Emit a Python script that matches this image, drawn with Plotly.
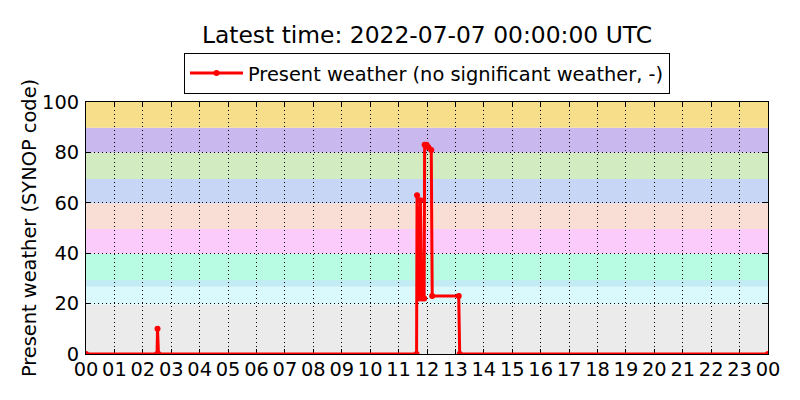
import plotly.graph_objects as go

# ---- data ----
times = [
    "2022-07-06 00:00", "2022-07-06 02:30", "2022-07-06 02:31", "2022-07-06 02:33",
    "2022-07-06 11:38", "2022-07-06 11:39", "2022-07-06 11:43", "2022-07-06 11:46",
    "2022-07-06 11:49", "2022-07-06 11:54", "2022-07-06 11:55", "2022-07-06 11:59",
    "2022-07-06 12:03", "2022-07-06 12:09", "2022-07-06 12:11", "2022-07-06 13:07",
    "2022-07-06 13:09", "2022-07-07 00:00",
]
weather = [0, 0, 10, 0,
           0, 63, 22, 61,
           22, 22, 83, 83,
           82, 81, 23, 23,
           0, 0]

hour_ticks = ["2022-07-06 %02d:00" % h for h in range(24)] + ["2022-07-07 00:00"]
hour_labels = ["00", "01", "02", "03", "04", "05", "06", "07", "08", "09", "10", "11",
               "12", "13", "14", "15", "16", "17", "18", "19", "20", "21", "22", "23", "00"]
y_ticks = [0, 20, 40, 60, 80, 100]

# SYNOP code background bands
band_lo = [0, 19.6, 26.7, 29.4, 39.8, 49.6, 59.8, 69.4, 80.0, 89.8]
band_hi = [19.6, 26.7, 29.4, 39.8, 49.6, 59.8, 69.4, 80.0, 89.8, 100]
band_colors = ["#ebebeb", "#d9f9fc", "#c3ebf3", "#b8fde3", "#fbcbfb",
               "#f8ded5", "#c8d6f5", "#d2ebc0", "#c8b8ee", "#f7de8b"]

# page body has an 8px margin; figure is sized/offset to compensate
W, H = 792, 392
ML, MR, MT, MB = 78, 32, 94, 46
PLOT_H = H - MT - MB

fig = go.Figure()
fig.add_trace(go.Scatter(
    x=times, y=weather, mode="lines+markers",
    name="Present weather (no significant weather, -)",
    line=dict(color="#ff0000", width=3),
    marker=dict(color="#ff0000", size=6),
))

for lo, hi, c in zip(band_lo, band_hi, band_colors):
    fig.add_shape(type="rect", xref="paper", yref="y", x0=0, x1=1, y0=lo, y1=hi,
                  fillcolor=c, line=dict(width=0), layer="below")

fig.update_layout(
    width=W, height=H,
    margin=dict(l=ML, r=MR, t=MT, b=MB, autoexpand=False),
    paper_bgcolor="white", plot_bgcolor="white",
    font=dict(family="DejaVu Sans", size=19.4, color="black"),
    title=dict(text="Latest time: 2022-07-07 00:00:00 UTC", font=dict(size=23.4),
               x=0.5, xref="paper", xanchor="center",
               y=1 - 27 / H, yref="container", yanchor="middle"),
    showlegend=True,
    legend=dict(x=0.5, xanchor="center", y=1 + (MT - 45) / PLOT_H, yanchor="top",
                bordercolor="black", borderwidth=1, bgcolor="white",
                font=dict(size=19.4), itemwidth=53),
)
fig.update_xaxes(
    range=["2022-07-06 00:00", "2022-07-07 00:00"],
    tickmode="array", tickvals=hour_ticks, ticktext=hour_labels,
    ticks="inside", ticklen=5, tickcolor="black",
    showline=True, linecolor="black", linewidth=1, mirror="ticks",
    showgrid=True, gridcolor="black", griddash="1px,3px", gridwidth=1,
    zeroline=False, layer="below traces", tickfont=dict(size=19.4),
    ticklabelstandoff=-2,
    automargin=False,
)
fig.update_yaxes(
    range=[0, 100], tickmode="array", tickvals=y_ticks,
    ticks="inside", ticklen=5, tickcolor="black",
    showline=True, linecolor="black", linewidth=1, mirror="ticks",
    showgrid=True, gridcolor="black", griddash="1px,3px", gridwidth=1,
    zeroline=False, layer="below traces", tickfont=dict(size=19.4),
    ticklabelstandoff=2,
    title=dict(text="Present weather (SYNOP code)", font=dict(size=19.4), standoff=0),
    automargin=False,
)

fig.write_html("out.html")
